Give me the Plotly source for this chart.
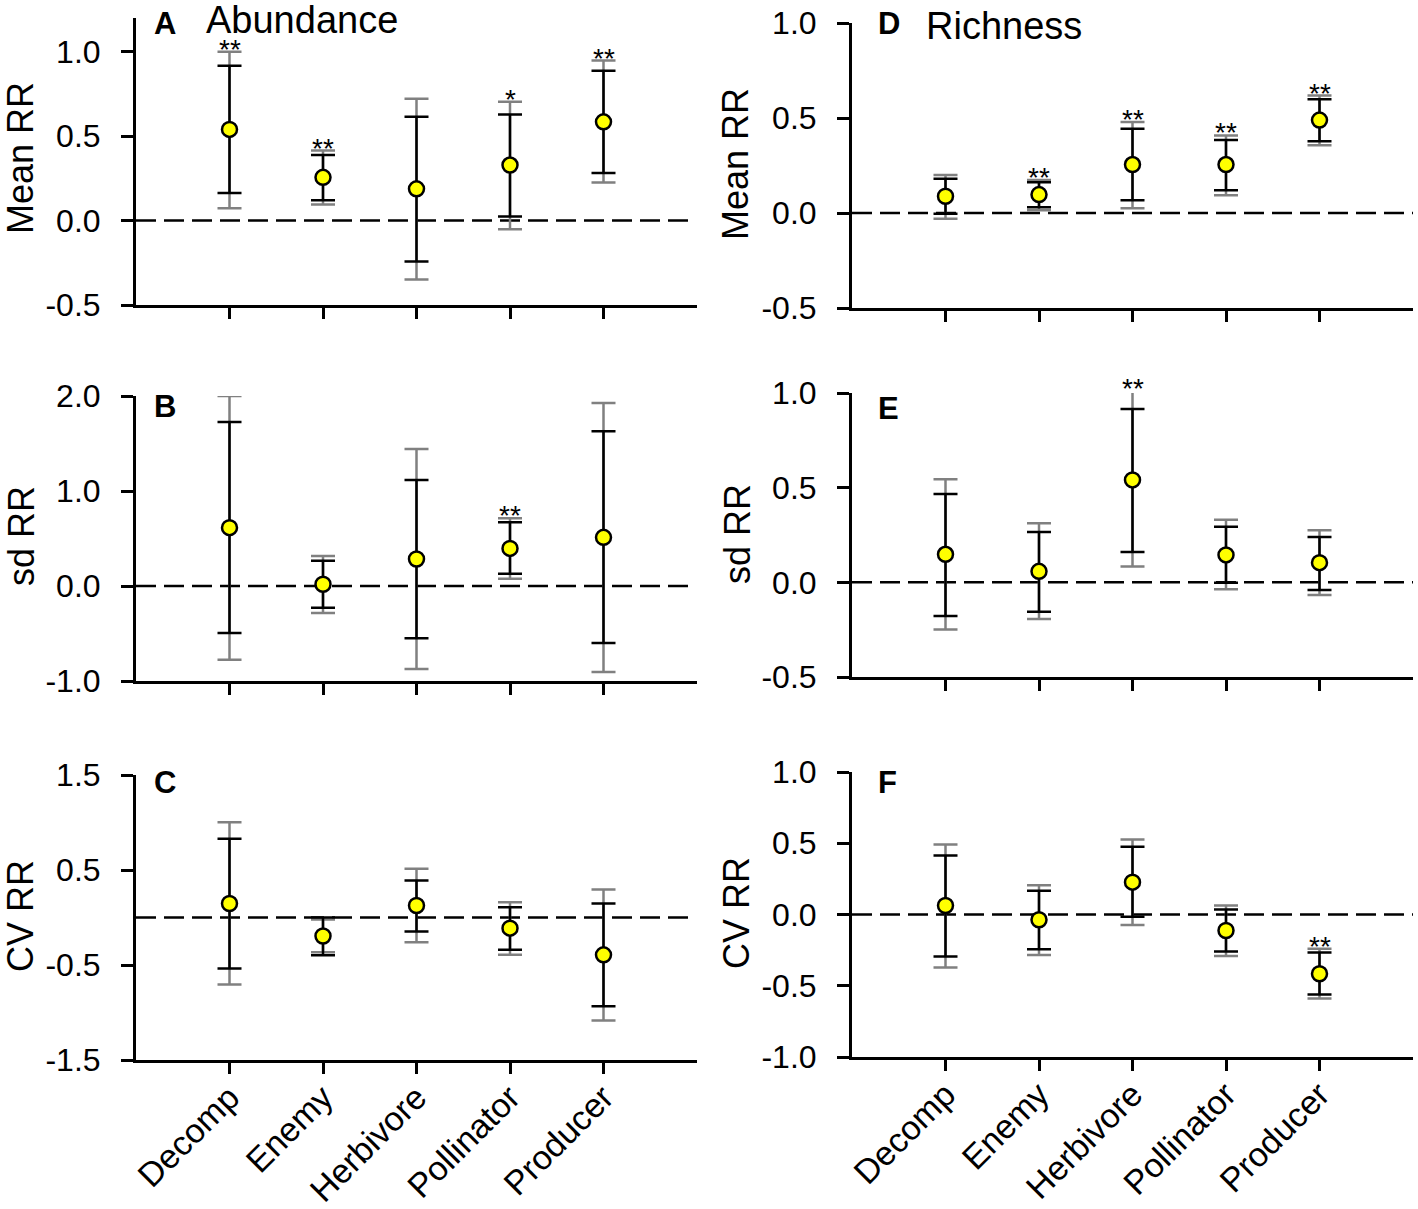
import plotly.graph_objects as go

categories = ["Decomp", "Enemy", "Herbivore", "Pollinator", "Producer"]

# Panel A - Abundance, Mean RR
A_mean = [0.54, 0.256, 0.188, 0.329, 0.585]
A_lo = [0.163, 0.121, -0.242, 0.024, 0.282]
A_hi = [0.917, 0.389, 0.615, 0.629, 0.887]
A_glo = [0.073, 0.095, -0.349, -0.052, 0.226]
A_ghi = [1.0, 0.415, 0.722, 0.704, 0.948]
A_sig = ["**", "**", "", "*", "**"]

# Panel B - Abundance, sd RR
B_mean = [0.614, 0.018, 0.284, 0.396, 0.512]
B_lo = [-0.495, -0.228, -0.551, 0.13, -0.60]
B_hi = [1.726, 0.267, 1.116, 0.67, 1.63]
B_glo = [-0.775, -0.284, -0.874, 0.077, -0.905]
B_ghi = [2.0, 0.316, 1.442, 0.712, 1.926]
B_sig = ["", "", "", "**", ""]

# Panel C - Abundance, CV RR
C_mean = [0.147, -0.195, 0.126, -0.112, -0.393]
C_lo = [-0.537, -0.397, -0.147, -0.34, -0.933]
C_hi = [0.828, 0.0, 0.389, 0.109, 0.147]
C_glo = [-0.705, -0.366, -0.26, -0.393, -1.084]
C_ghi = [1.003, -0.02, 0.512, 0.161, 0.295]
C_sig = ["", "", "", "", ""]

# Panel D - Richness, Mean RR
D_mean = [0.088, 0.097, 0.255, 0.255, 0.489]
D_lo = [-0.004, 0.03, 0.067, 0.12, 0.377]
D_hi = [0.18, 0.162, 0.444, 0.384, 0.599]
D_glo = [-0.03, 0.014, 0.025, 0.093, 0.356]
D_ghi = [0.2, 0.174, 0.479, 0.408, 0.618]
D_sig = ["", "**", "**", "**", "**"]

# Panel E - Richness, sd RR
E_mean = [0.148, 0.058, 0.541, 0.145, 0.104]
E_lo = [-0.178, -0.155, 0.16, -0.002, -0.041]
E_hi = [0.467, 0.266, 0.915, 0.293, 0.24]
E_glo = [-0.249, -0.194, 0.083, -0.037, -0.067]
E_ghi = [0.545, 0.312, 1.012, 0.33, 0.275]
E_sig = ["", "", "**", "", ""]

# Panel F - Richness, CV RR
F_mean = [0.063, -0.037, 0.227, -0.112, -0.416]
F_lo = [-0.295, -0.243, -0.016, -0.26, -0.561]
F_hi = [0.414, 0.166, 0.475, 0.035, -0.267]
F_glo = [-0.372, -0.285, -0.073, -0.292, -0.589]
F_ghi = [0.491, 0.206, 0.526, 0.063, -0.241]
F_sig = ["", "", "", "", "**"]

A_ticks = [-0.5, 0.0, 0.5, 1.0]
B_ticks = [-1.0, 0.0, 1.0, 2.0]
C_ticks = [-1.5, -0.5, 0.5, 1.5]
D_ticks = [-0.5, 0.0, 0.5, 1.0]
E_ticks = [-0.5, 0.0, 0.5, 1.0]
F_ticks = [-1.0, -0.5, 0.0, 0.5, 1.0]

W, H = 1418, 1209
FONT = "Arial, Liberation Sans, sans-serif"

def px_x(p):
    return p / W

def px_y(p):
    return 1 - p / H

panels = [
    # key, data..., ticks, yrange, x domain px, y domain px (top, bottom), letter, letter centre y, title, ytitle, ytitle centre
    ("1", A_mean, A_lo, A_hi, A_glo, A_ghi, A_sig, A_ticks, [-0.5, 1.2], (136, 697), (18, 305), "A", 20, "Abundance", "Mean RR", (20, 158), False),
    ("2", B_mean, B_lo, B_hi, B_glo, B_ghi, B_sig, B_ticks, [-1.0, 2.0], (136, 697), (396, 681), "B", 403, "", "sd RR", (21, 536), False),
    ("3", C_mean, C_lo, C_hi, C_glo, C_ghi, C_sig, C_ticks, [-1.5, 1.5], (136, 697), (775, 1060), "C", 778, "", "CV RR", (20, 916), True),
    ("4", D_mean, D_lo, D_hi, D_glo, D_ghi, D_sig, D_ticks, [-0.5, 1.0], (852, 1413), (23, 308), "D", 20, "Richness", "Mean RR", (736, 164), False),
    ("5", E_mean, E_lo, E_hi, E_glo, E_ghi, E_sig, E_ticks, [-0.5, 1.0], (852, 1413), (393, 677), "E", 404, "", "sd RR", (738, 534), False),
    ("6", F_mean, F_lo, F_hi, F_glo, F_ghi, F_sig, F_ticks, [-1.0, 1.0], (852, 1413), (772, 1057), "F", 778, "", "CV RR", (736, 913), True),
]

fig = go.Figure()
layout = dict(
    width=W, height=H, margin=dict(l=0, r=0, t=0, b=0, autoexpand=False),
    paper_bgcolor="white", plot_bgcolor="white", showlegend=False,
    font=dict(family=FONT, color="black"),
)
annotations = []
shapes = []

for (key, mean, lo, hi, glo, ghi, sig, ticks, yr, xd, yd, letter, letter_y, title, ytitle, ytpos, bottom) in panels:
    xa = "x" if key == "1" else "x" + key
    ya = "y" if key == "1" else "y" + key
    xname = "xaxis" if key == "1" else "xaxis" + key
    yname = "yaxis" if key == "1" else "yaxis" + key
    right = key in ("4", "5", "6")

    # gray (wider) intervals
    fig.add_trace(go.Scatter(
        x=categories, y=mean, mode="markers", xaxis=xa, yaxis=ya,
        marker=dict(size=1, color="rgba(0,0,0,0)"), cliponaxis=False,
        error_y=dict(type="data", symmetric=False,
                     array=[h - m for h, m in zip(ghi, mean)],
                     arrayminus=[m - l for m, l in zip(mean, glo)],
                     color="#808080", thickness=2.5, width=12),
        hoverinfo="skip",
    ))
    # black intervals + points
    fig.add_trace(go.Scatter(
        x=categories, y=mean, mode="markers", xaxis=xa, yaxis=ya, cliponaxis=False,
        marker=dict(size=15, color="#FFFF00", line=dict(color="black", width=2.5)),
        error_y=dict(type="data", symmetric=False,
                     array=[h - m for h, m in zip(hi, mean)],
                     arrayminus=[m - l for m, l in zip(mean, lo)],
                     color="black", thickness=2.5, width=12),
    ))

    layout[xname] = dict(
        domain=[px_x(xd[0]), px_x(xd[1])], anchor=ya, automargin=False,
        type="category", categoryorder="array", categoryarray=categories,
        range=[-1, 5], showline=True, linecolor="black", linewidth=3,
        ticks="outside", ticklen=11, tickwidth=2.5, tickcolor="black",
        ticklabelstandoff=-10,
        showgrid=False, zeroline=False,
        showticklabels=bottom, tickangle=-45,
        tickfont=dict(family=FONT, size=34, color="black"),
    )
    layout[yname] = dict(
        domain=[px_y(yd[1]), px_y(yd[0])], anchor=xa, automargin=False,
        range=yr, showline=True, linecolor="black", linewidth=3,
        ticks="outside", ticklen=12, tickwidth=2.5, tickcolor="black",
        ticklabelstandoff=14,
        showgrid=False, zeroline=False,
        tickvals=ticks, ticktext=["%.1f" % t for t in ticks],
        tickfont=dict(family=FONT, size=32, color="black"),
    )

    # dashed zero line
    shapes.append(dict(type="line", xref=xa, yref=ya, x0=-1, x1=5 if right else 4.92,
                       y0=0, y1=0, layer="below",
                       line=dict(color="black", width=2.5, dash="20px,8px")))

    # significance stars (anchor kept inside the axis range, shifted by the overflow)
    ppu = (yd[1] - yd[0]) / (yr[1] - yr[0])
    for c, s, g in zip(categories, sig, ghi):
        if s:
            ya_val = min(g, yr[1])
            extra = (g - ya_val) * ppu
            annotations.append(dict(x=c, y=ya_val, xref=xa, yref=ya, text=s, showarrow=False,
                                    xanchor="center", yanchor="bottom", yshift=-15 + extra,
                                    font=dict(family=FONT, size=28, color="black")))

    # panel letter
    annotations.append(dict(x=px_x(xd[0] + (24 if right else 16)), y=px_y(letter_y + 4),
                            xref="paper", yref="paper",
                            text="<b>%s</b>" % letter, showarrow=False,
                            xanchor="left", yanchor="middle",
                            font=dict(family=FONT, size=31, color="black")))
    if title:
        tx = xd[0] + 68 if not right else xd[0] + 72
        annotations.append(dict(x=px_x(tx), y=px_y(-3 if not right else 3), xref="paper", yref="paper",
                                text=title, showarrow=False, xanchor="left", yanchor="top",
                                font=dict(family=FONT, size=38, color="black")))
    # y-axis title
    annotations.append(dict(x=px_x(ytpos[0]), y=px_y(ytpos[1]), xref="paper", yref="paper",
                            text=ytitle, showarrow=False, textangle=-90,
                            xanchor="center", yanchor="middle",
                            font=dict(family=FONT, size=36, color="black")))

layout["annotations"] = annotations
layout["shapes"] = shapes
fig.update_layout(**layout)
fig.write_html("out.html", config={"displayModeBar": False},
               post_script="document.body.style.margin='0';document.body.style.padding='0';document.body.style.overflow='hidden';")
